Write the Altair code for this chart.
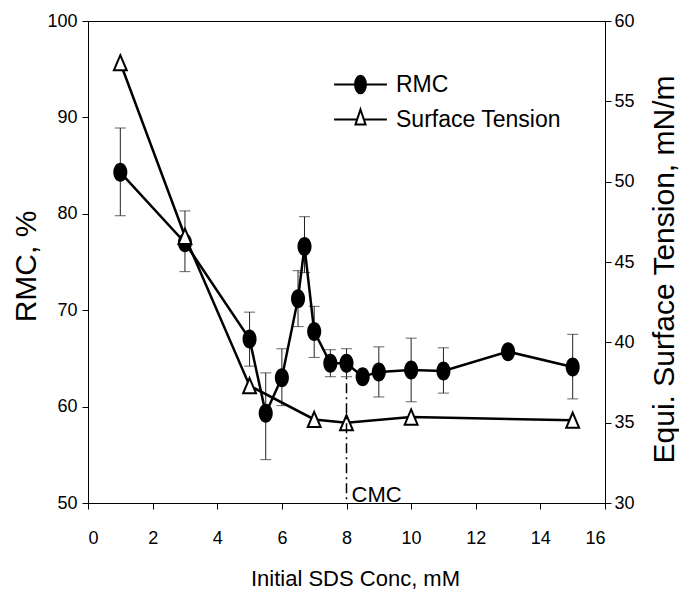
import altair as alt
import pandas as pd

# ---- data ----
conc = [1, 3, 5, 5.5, 6, 6.5, 6.7, 7, 7.5, 8, 8.5, 9, 10, 11, 13, 15]
rmc = [84.3, 77.0, 67.0, 59.3, 63.0, 71.2, 76.6, 67.8, 64.5, 64.5, 63.1, 63.6, 63.8, 63.7, 65.7, 64.1]
rmc_hi = [88.9, 80.3, 69.8, 63.5, 66.0, 74.1, 79.7, 70.4, 65.9, 66.0, None, 66.2, 67.1, 66.1, None, 67.5]
rmc_lo = [79.8, 74.0, 64.2, 54.5, 60.1, 68.3, 73.9, 65.1, 63.1, 63.1, None, 61.0, 60.5, 61.4, None, 60.8]

st_conc = [1, 3, 5, 7, 8, 10, 15]
st = [57.4, 46.6, 37.3, 35.2, 35.0, 35.35, 35.15]

cmc_conc = [8]
cmc_label = ["CMC"]
series = ["RMC", "Surface Tension"]

x_ticks = [0, 2, 4, 6, 8, 10, 12, 14, 16]
left_ticks = [50, 60, 70, 80, 90, 100]
right_ticks = [30, 35, 40, 45, 50, 55, 60]

# ---- tables ----
df_rmc = pd.DataFrame({"conc": conc, "rmc": rmc, "lo": rmc_lo, "hi": rmc_hi})
df_err = df_rmc.dropna().reset_index(drop=True)
df_st = pd.DataFrame({"conc": st_conc, "st": st})
df_cmc = pd.DataFrame({
    "conc": cmc_conc,
    "label": cmc_label,
    "top": [rmc[conc.index(c)] for c in cmc_conc],
    "bottom": [left_ticks[0]] * len(cmc_conc),
})
df_leg = pd.DataFrame({"series": series})

FONT = "Liberation Sans"
ELLIPSE = "M0,-1A0.74,1 0 1,1 0,1A0.74,1 0 1,1 0,-1Z"
TRIANGLE = "M0,-1L0.85,1L-0.85,1Z"
LEG_RMC = "M-3.3,0L3.3,0M0,-1.1A0.68,1.1 0 1,1 0,1.1A0.68,1.1 0 1,1 0,-1.1Z"
LEG_ST = "M-3.3,0L-0.42,0M0.42,0L3.3,0M0,-1.25L0.63,0.63L-0.63,0.63Z"

xs = alt.Scale(domain=[0, 16], nice=False, zero=False)
x_axis = alt.Axis(values=x_ticks, title="Initial SDS Conc, mM", tickSize=6,
                  labelPadding=20, titleX=267, titleY=82,
                  titleBaseline="alphabetic", titleFontSize=22, titleFontWeight="normal")
X = alt.X("conc:Q", scale=xs, axis=x_axis)

yl_scale = alt.Scale(domain=[50, 100], nice=False, zero=False)
left_axis = alt.Axis(orient="left", values=left_ticks, title="RMC, %",
                     titleAngle=270, titleX=-53, titleY=245,
                     titleBaseline="alphabetic", titleFontSize=30, titleFontWeight="normal",
                     tickSize=6, labelPadding=5)
yr_scale = alt.Scale(domain=[30, 60], nice=False, zero=False)
right_axis = alt.Axis(orient="right", values=right_ticks,
                      title="Equi. Surface Tension, mN/m",
                      titleAngle=270, titleX=68, titleY=248,
                      titleBaseline="alphabetic", titleFontSize=30, titleFontWeight="normal",
                      tickSize=6, labelPadding=3)

# ---- left (RMC) group ----
err_rule = alt.Chart(df_err).mark_rule(color="#222", strokeWidth=1).encode(
    x=X, y=alt.Y("lo:Q", scale=yl_scale, axis=left_axis), y2="hi:Q")
cap_lo = alt.Chart(df_err).mark_tick(color="#222", orient="horizontal", size=11, thickness=1).encode(
    x=X, y=alt.Y("lo:Q", scale=yl_scale, axis=left_axis))
cap_hi = alt.Chart(df_err).mark_tick(color="#222", orient="horizontal", size=11, thickness=1).encode(
    x=X, y=alt.Y("hi:Q", scale=yl_scale, axis=left_axis))
rmc_line = alt.Chart(df_rmc).mark_line(color="black", strokeWidth=2.5).encode(
    x=X, y=alt.Y("rmc:Q", scale=yl_scale, axis=left_axis))
rmc_pts = alt.Chart(df_rmc).mark_point(shape=ELLIPSE, size=361, filled=True,
                                        fill="black", opacity=1, strokeWidth=0).encode(
    x=X, y=alt.Y("rmc:Q", scale=yl_scale, axis=left_axis))

legend = alt.Legend(orient="none", legendX=261, legendY=52, title=None,
                    symbolSize=256, symbolStrokeWidth=2, symbolStrokeColor="black",
                    labelFontSize=23, labelFont=FONT, labelColor="black", labelLimit=0,
                    labelOffset=24, rowPadding=7, symbolOpacity=1)
leg_carrier = alt.Chart(df_leg).mark_point(size=0, strokeWidth=2).encode(
    shape=alt.Shape("series:N", scale=alt.Scale(domain=series, range=[LEG_RMC, LEG_ST]), legend=legend),
    fill=alt.Fill("series:N", scale=alt.Scale(domain=series, range=["black", "white"]), legend=legend),
    stroke=alt.Stroke("series:N", scale=alt.Scale(domain=series, range=["black", "black"]), legend=legend),
)

left = alt.layer(err_rule, cap_lo, cap_hi, rmc_line, rmc_pts, leg_carrier)

# ---- right (surface tension) group ----
st_line = alt.Chart(df_st).mark_line(color="black", strokeWidth=2.5).encode(
    x=X, y=alt.Y("st:Q", scale=yr_scale, axis=right_axis))
st_pts = alt.Chart(df_st).mark_point(shape=TRIANGLE, size=230, fill="white", fillOpacity=1,
                                      stroke="black", strokeWidth=2, opacity=1).encode(
    x=X, y=alt.Y("st:Q", scale=yr_scale, axis=right_axis))
right = alt.layer(st_line, st_pts)

# ---- CMC marker group ----
cmc_rule = alt.Chart(df_cmc).mark_rule(color="black", strokeWidth=1.5, strokeDash=[10, 4, 2, 4]).encode(
    x=X, y=alt.Y("top:Q", scale=yl_scale, axis=None), y2="bottom:Q")
cmc_text = alt.Chart(df_cmc).mark_text(align="left", baseline="alphabetic", dx=5, dy=-1,
                                       fontSize=22, font=FONT, color="black").encode(
    x=X, y=alt.Y("bottom:Q", scale=yl_scale, axis=None), text="label:N")
top = alt.layer(cmc_rule, cmc_text)

chart = alt.layer(left, right, top).resolve_scale(
    y="independent"
).properties(
    width=517, height=482,
    padding={"left": 88, "top": 21, "right": 74, "bottom": 87},
    autosize=alt.AutoSizeParams(type="none"),
    background="white",
).configure_view(
    stroke="black", strokeWidth=1
).configure_axis(
    grid=False, domainColor="black", domainWidth=1, tickColor="black", tickWidth=1,
    labelFont=FONT, labelFontSize=18, labelColor="black",
    titleFont=FONT, titleColor="black", titleFontWeight="normal",
).configure_legend(
    symbolStrokeColor="black", symbolStrokeWidth=2
)

chart.save("out.html", embed_options={"renderer": "svg", "actions": False})
